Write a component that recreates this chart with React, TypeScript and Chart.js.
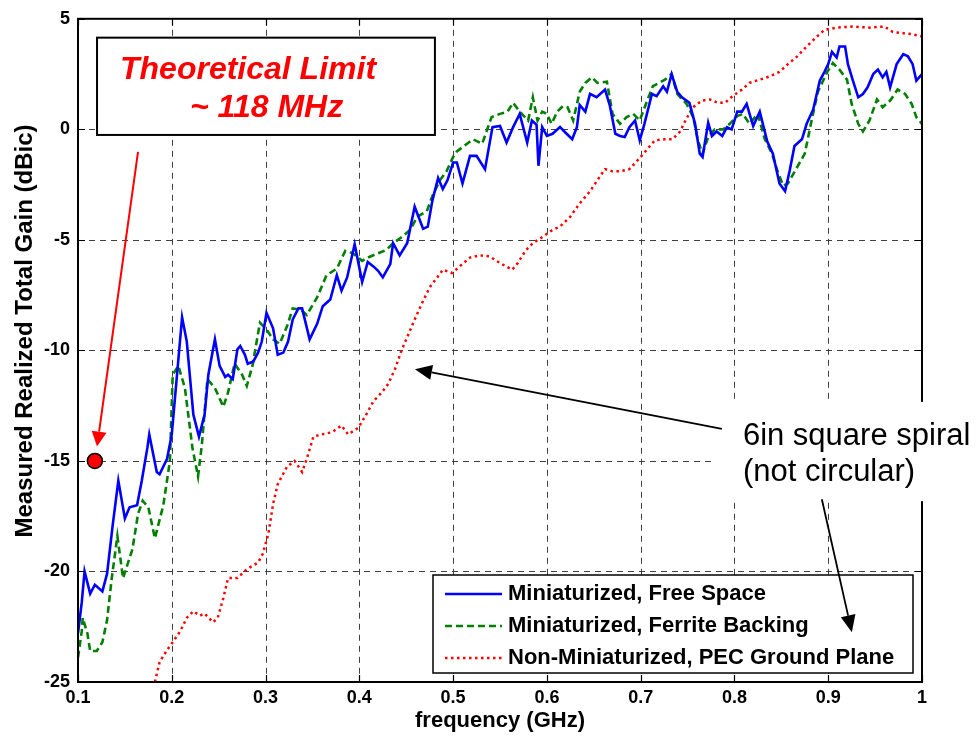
import React, { useEffect, useRef } from "react";
import { Chart, registerables } from "chart.js";

Chart.register(...registerables);

const FONT = '"Liberation Sans", Arial, Helvetica, sans-serif';

// ---------- data ----------
const xTickValues = [0.1, 0.2, 0.3, 0.4, 0.5, 0.6, 0.7, 0.8, 0.9, 1.0];
const xTickLabels = ["0.1", "0.2", "0.3", "0.4", "0.5", "0.6", "0.7", "0.8", "0.9", "1"];
const yTickValues = [5, 0, -5, -10, -15, -20, -25];
const yTickLabels = ["5", "0", "-5", "-10", "-15", "-20", "-25"];

const seriesNames = [
  "Miniaturized, Free Space",
  "Miniaturized, Ferrite Backing",
  "Non-Miniaturized, PEC Ground Plane",
];

const freqFree = [0.100,0.104,0.107,0.113,0.118,0.126,0.131,0.137,0.143,0.150,0.155,0.163,0.168,0.174,0.176,0.184,0.187,0.195,0.200,0.206,0.211,0.216,0.223,0.229,0.235,0.239,0.246,0.251,0.257,0.260,0.265,0.270,0.273,0.278,0.281,0.287,0.292,0.296,0.301,0.308,0.313,0.319,0.324,0.329,0.335,0.339,0.347,0.355,0.361,0.369,0.376,0.381,0.387,0.395,0.403,0.409,0.415,0.420,0.425,0.433,0.436,0.443,0.451,0.459,0.468,0.473,0.478,0.484,0.489,0.494,0.500,0.504,0.510,0.518,0.525,0.534,0.542,0.550,0.557,0.564,0.571,0.579,0.584,0.589,0.591,0.595,0.600,0.606,0.614,0.621,0.627,0.632,0.635,0.641,0.646,0.653,0.662,0.667,0.673,0.678,0.683,0.688,0.694,0.699,0.704,0.712,0.717,0.724,0.728,0.733,0.739,0.744,0.752,0.758,0.763,0.766,0.772,0.776,0.781,0.787,0.792,0.797,0.803,0.808,0.813,0.820,0.827,0.835,0.841,0.848,0.854,0.859,0.864,0.872,0.877,0.884,0.891,0.896,0.900,0.904,0.909,0.912,0.918,0.921,0.926,0.932,0.937,0.942,0.948,0.953,0.958,0.962,0.966,0.973,0.980,0.985,0.990,0.994,1.000];
const gainFree = [-22.8,-21.4,-20.0,-21.0,-20.6,-20.9,-20.1,-17.9,-15.9,-17.6,-17.1,-17.0,-15.9,-14.4,-13.8,-15.5,-15.6,-14.9,-13.8,-10.9,-8.5,-9.6,-12.9,-13.9,-12.9,-11.1,-9.5,-10.7,-11.2,-11.1,-11.3,-9.95,-9.8,-10.2,-10.6,-10.5,-10.1,-9.6,-8.3,-9.0,-10.2,-10.1,-9.6,-8.6,-8.1,-8.1,-9.5,-8.8,-8.0,-7.7,-6.6,-7.3,-6.7,-5.2,-6.9,-6.0,-6.2,-6.4,-6.7,-6.1,-5.15,-5.7,-5.15,-3.5,-4.5,-4.4,-3.2,-2.2,-2.7,-2.3,-1.5,-1.5,-2.45,-1.2,-1.2,-1.8,0.1,0.15,-0.6,0.1,0.7,-0.6,0.4,0.2,-1.65,0.1,-0.3,-0.2,0.1,-0.2,-0.45,0.1,1.1,0.8,1.6,1.45,1.8,1.1,-0.2,-0.3,-0.35,0.1,0.4,-0.5,0.25,1.6,1.5,1.95,1.7,2.5,1.7,1.45,1.2,0.25,-1.1,-1.25,0.3,-0.3,-0.1,-0.3,0.1,0.0,0.8,0.8,1.15,0.15,0.8,-0.55,-1.1,-2.45,-2.8,-1.85,-0.75,-0.45,0.25,0.9,2.2,2.6,2.95,3.5,3.25,3.75,3.75,2.95,2.25,1.45,1.6,1.9,2.5,2.7,2.35,2.6,1.9,2.95,3.4,3.3,2.95,2.2,2.5];

const freqFerrite = [0.100,0.104,0.105,0.110,0.113,0.120,0.126,0.131,0.136,0.142,0.148,0.158,0.164,0.169,0.175,0.182,0.191,0.198,0.201,0.207,0.214,0.222,0.228,0.232,0.238,0.246,0.255,0.260,0.267,0.275,0.280,0.286,0.294,0.301,0.308,0.315,0.323,0.329,0.337,0.344,0.355,0.365,0.376,0.385,0.393,0.403,0.409,0.429,0.436,0.446,0.454,0.462,0.472,0.478,0.486,0.493,0.500,0.504,0.521,0.531,0.541,0.550,0.558,0.564,0.571,0.580,0.585,0.590,0.595,0.600,0.605,0.611,0.617,0.622,0.628,0.635,0.641,0.648,0.654,0.664,0.670,0.678,0.685,0.692,0.699,0.707,0.713,0.726,0.733,0.739,0.749,0.756,0.761,0.766,0.772,0.779,0.788,0.795,0.803,0.809,0.816,0.825,0.832,0.840,0.846,0.852,0.857,0.867,0.875,0.883,0.889,0.899,0.905,0.912,0.920,0.925,0.932,0.937,0.944,0.952,0.958,0.966,0.974,0.982,0.989,0.994,1.000];
const gainFerrite = [-23.9,-22.7,-22.1,-22.8,-23.6,-23.6,-23.2,-22.2,-20.3,-18.4,-20.3,-19.0,-17.4,-16.8,-17.1,-18.5,-17.0,-15.0,-11.1,-10.7,-11.7,-14.4,-15.7,-14.3,-11.3,-11.7,-12.55,-11.9,-10.6,-11.1,-11.6,-10.7,-8.75,-9.05,-9.5,-9.7,-8.9,-8.1,-8.15,-8.4,-7.6,-6.6,-6.3,-5.5,-5.6,-5.95,-5.8,-5.45,-5.15,-4.85,-4.55,-3.95,-3.7,-3.0,-2.3,-1.9,-1.25,-1.0,-0.45,-0.65,0.55,0.7,0.8,1.2,0.8,0.4,1.45,0.4,0.8,0.7,0.25,0.8,1.05,1.0,0.4,1.7,2.1,2.35,2.1,2.15,0.7,0.25,0.55,0.7,0.4,1.3,1.95,2.25,2.5,1.6,1.15,0.55,-0.5,-1.1,-0.35,0.0,0.0,0.25,0.6,0.7,0.25,0.7,-0.4,-1.1,-1.9,-2.55,-2.45,-1.7,-1.1,0.55,1.7,2.6,3.0,2.7,2.25,1.15,0.25,-0.1,0.4,1.35,1.0,1.3,1.8,1.6,1.15,0.55,0.25];

const freqPec = [0.182,0.187,0.195,0.201,0.209,0.216,0.223,0.230,0.235,0.244,0.249,0.255,0.260,0.270,0.280,0.292,0.297,0.303,0.308,0.313,0.323,0.331,0.339,0.344,0.351,0.360,0.371,0.381,0.388,0.399,0.408,0.415,0.424,0.431,0.438,0.445,0.452,0.459,0.467,0.475,0.483,0.489,0.499,0.507,0.518,0.529,0.539,0.550,0.563,0.569,0.577,0.585,0.596,0.606,0.614,0.625,0.635,0.646,0.657,0.662,0.670,0.678,0.688,0.699,0.707,0.715,0.726,0.734,0.742,0.749,0.756,0.765,0.774,0.782,0.790,0.798,0.808,0.816,0.827,0.838,0.848,0.857,0.867,0.877,0.888,0.896,0.909,0.926,0.944,0.960,0.969,0.980,0.990,1.000];
const gainPec = [-25.0,-24.1,-23.55,-23.2,-22.7,-22.1,-21.8,-22.0,-21.9,-22.3,-22.1,-21.2,-20.3,-20.3,-19.9,-19.6,-19.2,-18.3,-16.95,-16.05,-15.25,-15.0,-15.5,-14.9,-13.9,-13.8,-13.7,-13.4,-13.8,-13.5,-12.85,-12.3,-11.9,-11.5,-10.85,-10.0,-9.3,-8.6,-7.85,-7.15,-6.7,-6.35,-6.5,-6.2,-5.8,-5.7,-5.75,-6.05,-6.35,-6.05,-5.5,-5.15,-4.85,-4.55,-4.4,-3.95,-3.35,-2.8,-2.1,-1.8,-1.9,-1.9,-1.8,-1.3,-0.9,-0.5,-0.45,-0.45,-0.1,0.5,1.0,1.3,1.35,1.2,1.2,1.5,1.8,2.1,2.25,2.4,2.6,2.95,3.3,3.75,4.2,4.5,4.6,4.65,4.6,4.65,4.4,4.35,4.3,4.2];

const limitFreq = [0.118];
const limitGain = [-15];

// ---------- styles ----------
const BLUE = "#0000ff";
const GREEN = "#008000";
const RED = "#ff0000";
const DASH_GREEN = [7, 4];
const DOT_RED = [2.5, 3.5];

function pts(xs: number[], ys: number[]) {
  return xs.map((x, i) => ({ x, y: ys[i] }));
}

function drawArrow(ctx: CanvasRenderingContext2D, x0: number, y0: number, x1: number, y1: number, color: string, lw: number, hl: number, hw: number) {
  const ang = Math.atan2(y1 - y0, x1 - x0);
  const bx = x1 - hl * Math.cos(ang);
  const by = y1 - hl * Math.sin(ang);
  ctx.save();
  ctx.setLineDash([]);
  ctx.strokeStyle = color;
  ctx.lineWidth = lw;
  ctx.beginPath();
  ctx.moveTo(x0, y0);
  ctx.lineTo(bx, by);
  ctx.stroke();
  ctx.fillStyle = color;
  ctx.beginPath();
  ctx.moveTo(x1, y1);
  ctx.lineTo(bx + (hw / 2) * Math.sin(ang), by - (hw / 2) * Math.cos(ang));
  ctx.lineTo(bx - (hw / 2) * Math.sin(ang), by + (hw / 2) * Math.cos(ang));
  ctx.closePath();
  ctx.fill();
  ctx.restore();
}

const decor = {
  id: "decor",
  beforeDatasetsDraw(chart: any) {
    const { ctx, chartArea: a, scales } = chart;
    const xs = scales.x, ys = scales.y;
    ctx.save();
    ctx.strokeStyle = "#404040";
    ctx.lineWidth = 1;
    ctx.setLineDash([6, 5]);
    xTickValues.slice(1, -1).forEach((v) => {
      const px = Math.round(xs.getPixelForValue(v)) + 0.5;
      ctx.beginPath();
      ctx.moveTo(px, a.top);
      ctx.lineTo(px, a.bottom);
      ctx.stroke();
    });
    yTickValues.slice(1, -1).forEach((v) => {
      const py = Math.round(ys.getPixelForValue(v)) + 0.5;
      ctx.beginPath();
      ctx.moveTo(a.left, py);
      ctx.lineTo(a.right, py);
      ctx.stroke();
    });
    ctx.restore();
  },
  afterDatasetsDraw(chart: any) {
    const { ctx, chartArea: a, scales } = chart;
    const xs = scales.x, ys = scales.y;
    ctx.save();
    ctx.setLineDash([]);
    ctx.strokeStyle = "#000";
    ctx.lineWidth = 1.2;
    const tl = 7;
    xTickValues.forEach((v) => {
      const px = Math.round(xs.getPixelForValue(v)) + 0.5;
      ctx.beginPath();
      ctx.moveTo(px, a.bottom);
      ctx.lineTo(px, a.bottom - tl);
      ctx.moveTo(px, a.top);
      ctx.lineTo(px, a.top + tl);
      ctx.stroke();
    });
    yTickValues.forEach((v) => {
      const py = Math.round(ys.getPixelForValue(v)) + 0.5;
      ctx.beginPath();
      ctx.moveTo(a.left, py);
      ctx.lineTo(a.left + tl, py);
      ctx.moveTo(a.right, py);
      ctx.lineTo(a.right - tl, py);
      ctx.stroke();
    });
    ctx.lineWidth = 2;
    ctx.strokeRect(a.left, a.top, a.right - a.left, a.bottom - a.top);
    ctx.restore();
  },
  afterDraw(chart: any) {
    const { ctx, chartArea: a, scales } = chart;
    const X = (v: number) => scales.x.getPixelForValue(v);
    const Y = (v: number) => scales.y.getPixelForValue(v);
    ctx.save();
    ctx.setLineDash([]);

    // axis titles
    ctx.fillStyle = "#000";
    ctx.font = `bold 22px ${FONT}`;
    ctx.textAlign = "center";
    ctx.textBaseline = "middle";
    ctx.fillText("frequency (GHz)", (a.left + a.right) / 2, 721);
    ctx.save();
    ctx.translate(25, 331);
    ctx.rotate(-Math.PI / 2);
    ctx.font = `bold 24px ${FONT}`;
    ctx.fillText("Measured Realized Total Gain (dBic)", 0, 0);
    ctx.restore();

    // theoretical limit box
    const bx0 = X(0.1203), bx1 = X(0.4806), by0 = Y(4.147), by1 = Y(-0.254);
    ctx.fillStyle = "#fff";
    ctx.fillRect(bx0, by0, bx1 - bx0, by1 - by0);
    ctx.strokeStyle = "#000";
    ctx.lineWidth = 2;
    ctx.strokeRect(bx0, by0, bx1 - bx0, by1 - by0);
    ctx.fillStyle = RED;
    ctx.font = `italic bold 32px ${FONT}`;
    ctx.textAlign = "left";
    ctx.textBaseline = "alphabetic";
    ctx.fillText("Theoretical Limit", X(0.1448), Y(2.261));
    ctx.fillText("~ 118 MHz", X(0.2194), Y(0.555));

    // red arrow to the limit point
    drawArrow(ctx, X(0.164), Y(-1.017), X(0.1203), Y(-14.35), RED, 2, 15, 15);

    // legend
    const lx0 = a.right - 489, lx1 = a.right - 9, ly0 = a.bottom - 107, ly1 = a.bottom - 9;
    ctx.fillStyle = "#fff";
    ctx.fillRect(lx0, ly0, lx1 - lx0, ly1 - ly0);
    ctx.strokeStyle = "#000";
    ctx.lineWidth = 1.5;
    ctx.strokeRect(lx0, ly0, lx1 - lx0, ly1 - ly0);
    const colors = [BLUE, GREEN, RED];
    const dashes = [[], DASH_GREEN, DOT_RED];
    const widths = [2.5, 2.5, 2.5];
    ctx.font = `bold 22px ${FONT}`;
    ctx.textBaseline = "middle";
    seriesNames.forEach((name, i) => {
      const cy = ly0 + 19 + i * 32;
      ctx.strokeStyle = colors[i];
      ctx.lineWidth = widths[i];
      ctx.setLineDash(dashes[i]);
      ctx.beginPath();
      ctx.moveTo(lx0 + 12, cy);
      ctx.lineTo(lx0 + 69, cy);
      ctx.stroke();
      ctx.setLineDash([]);
      ctx.fillStyle = "#000";
      ctx.fillText(name, lx0 + 75, cy);
    });

    // spiral annotation (drawn over legend)
    ctx.textBaseline = "alphabetic";
    ctx.fillStyle = "#fff";
    ctx.fillRect(X(0.779), Y(-12.33), 978 - X(0.779), Y(-16.82) - Y(-12.33));
    ctx.fillStyle = "#000";
    ctx.font = `31px ${FONT}`;
    ctx.fillText("6in square spiral", X(0.809), Y(-14.26));
    ctx.fillText("(not circular)", X(0.809), Y(-15.92));
    drawArrow(ctx, X(0.7866), Y(-13.545), X(0.4593), Y(-10.85), "#000", 1.8, 17, 15);
    drawArrow(ctx, X(0.8932), Y(-16.73), X(0.9252), Y(-22.75), "#000", 1.8, 17, 15);
    ctx.restore();
  },
};

export default function App() {
  const ref = useRef<HTMLCanvasElement>(null);
  useEffect(() => {
    document.body.style.margin = "0";
    const canvas = ref.current!;
    const chart = new Chart(canvas, {
      type: "line",
      data: {
        datasets: [
          {
            label: seriesNames[0],
            data: pts(freqFree, gainFree),
            borderColor: BLUE,
            borderWidth: 2.6,
            pointRadius: 0,
            tension: 0,
          },
          {
            label: seriesNames[1],
            data: pts(freqFerrite, gainFerrite),
            borderColor: GREEN,
            borderWidth: 2.6,
            borderDash: DASH_GREEN,
            pointRadius: 0,
            tension: 0,
          },
          {
            label: seriesNames[2],
            data: pts(freqPec, gainPec),
            borderColor: RED,
            borderWidth: 2.5,
            borderDash: DOT_RED,
            pointRadius: 0,
            tension: 0,
          },
          {
            label: "Theoretical Limit",
            data: pts(limitFreq, limitGain),
            showLine: false,
            pointRadius: 7.5,
            pointBackgroundColor: RED,
            pointBorderColor: "#000",
            pointBorderWidth: 1.5,
          } as any,
        ],
      },
      options: {
        animation: false,
        responsive: false,
        events: [],
        layout: { padding: { top: 14, right: 56, left: 0, bottom: 0 } },
        plugins: { legend: { display: false }, tooltip: { enabled: false } },
        scales: {
          x: {
            type: "linear",
            min: 0.1,
            max: 1,
            afterBuildTicks: (s: any) => {
              s.ticks = xTickValues.map((v) => ({ value: v }));
            },
            afterFit: (s: any) => {
              s.height = 54;
            },
            grid: { display: false, drawTicks: false },
            border: { display: false },
            ticks: {
              autoSkip: false,
              maxRotation: 0,
              padding: 5,
              color: "#000",
              font: { family: FONT, size: 18, weight: "bold" },
              callback: (_v: any, i: number) => xTickLabels[i],
            },
          },
          y: {
            type: "linear",
            min: -25,
            max: 5,
            afterBuildTicks: (s: any) => {
              s.ticks = yTickValues.map((v) => ({ value: v }));
            },
            afterFit: (s: any) => {
              s.width = 78;
            },
            grid: { display: false, drawTicks: false },
            border: { display: false },
            ticks: {
              autoSkip: false,
              padding: 8,
              color: "#000",
              font: { family: FONT, size: 18, weight: "bold" },
              callback: (_v: any, i: number) => yTickLabels[i],
            },
          },
        },
      } as any,
      plugins: [decor],
    });
    return () => chart.destroy();
  }, []);
  return (
    <div style={{ position: "absolute", left: 0, top: 0, width: 978, height: 736, background: "#fff" }}>
      <canvas ref={ref} width={978} height={736} style={{ display: "block" }} />
    </div>
  );
}
